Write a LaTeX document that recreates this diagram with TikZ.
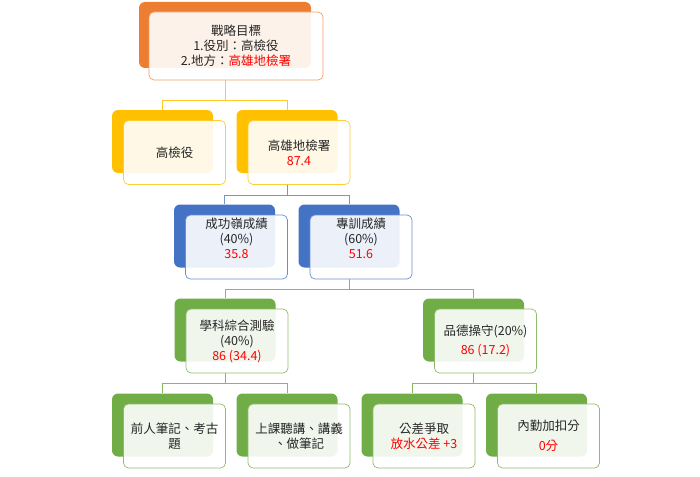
\documentclass[tikz,border=0pt]{standalone}
\usepackage{fontspec}
\setmainfont{Noto Sans CJK TC}
\definecolor{cO}{HTML}{ED7D31}
\definecolor{cY}{HTML}{FFC000}
\definecolor{cB}{HTML}{4472C4}
\definecolor{cG}{HTML}{70AD47}
\definecolor{cR}{HTML}{FF0000}
\definecolor{cT}{HTML}{262626}
\begin{document}
\begin{tikzpicture}[x=1pt,y=-1pt,
  back/.style={rectangle, rounded corners=6pt, minimum width=101pt, minimum height=63pt, inner sep=0pt, fill=#1},
  front/.style={rectangle, rounded corners=5pt, minimum width=102pt, minimum height=64pt, fill=white, fill opacity=0.9, text opacity=1, draw=#1, line width=0.7pt, align=center, text=cT, inner sep=2pt, font=\fontsize{12.5}{15}\selectfont},
  conn/.style={draw=#1, line width=0.8pt},
  hl/.style={text=cR}]
\useasboundingbox (0,0) rectangle (700,476);
% level 1
\node[back=cO, minimum width=172pt, minimum height=66pt] (g0) at (225,35) {};
\node[front=cO!75, minimum width=174pt, minimum height=68pt] (g) at (236,46) {戰略目標\\1.役別：高檢役\\2.地方：\textcolor{cR}{高雄地檢署}};
% level 2
\node[back=cY] (a0) at (162.5,141.5) {};
\node[front=cY!80] (a) at (174.5,152.5) {高檢役};
\node[back=cY] (b0) at (287,141.5) {};
\node[front=cY!80] (b) at (299,152.5) {高雄地檢署\\\textcolor{cR}{87.4}};
% level 3
\node[back=cB] (c0) at (224.5,236) {};
\node[front=cB!80] (c) at (236.5,247) {成功嶺成績\\(40\%)\\\textcolor{cR}{35.8}\\[2pt]};
\node[back=cB] (d0) at (349,236) {};
\node[front=cB!80] (d) at (361,247) {專訓成績\\(60\%)\\\textcolor{cR}{51.6}\\[2pt]};
% level 4
\node[back=cG] (e0) at (225,330) {};
\node[front=cG!80] (e) at (237,341) {學科綜合測驗\\(40\%)\\\textcolor{cR}{86 (34.4)}};
\node[back=cG] (f0) at (473.5,330) {};
\node[front=cG!80] (f) at (485.5,341) {品德操守(20\%)\\[4pt]\textcolor{cR}{86 (17.2)}};
% level 5
\node[back=cG] (h0) at (162.5,425) {};
\node[front=cG!80] (h) at (174.5,436) {前人筆記、考古\\題};
\node[back=cG] (i0) at (287,425) {};
\node[front=cG!80] (i) at (299,436) {上課聽講、講義\\、做筆記};
\node[back=cG] (j0) at (412,425) {};
\node[front=cG!80] (j) at (424,436) {公差爭取\\\textcolor{cR}{放水公差 +3}};
\node[back=cG] (k0) at (536.5,425) {};
\node[front=cG!80] (k) at (548.5,436) {內勤加扣分\\[5pt]\textcolor{cR}{0分}};
% connectors
\draw[conn=cY!85] (g0 |- g.south) -- ++(0,20) -| (a0.north);
\draw[conn=cY!85] (g0 |- g.south) -- ++(0,20) -| (b0.north);
\draw[conn=cB!75] (b0 |- b.south) -- ++(0,10.5) -| (c0.north);
\draw[conn=cB!75] (b0 |- b.south) -- ++(0,10.5) -| (d0.north);
\draw[conn=cG!85] (d0 |- d.south) -- ++(0,10) -| (e0.north);
\draw[conn=cG!85] (d0 |- d.south) -- ++(0,10) -| (f0.north);
\draw[conn=cG!85] (e0 |- e.south) -- ++(0,10) -| (h0.north);
\draw[conn=cG!85] (e0 |- e.south) -- ++(0,10) -| (i0.north);
\draw[conn=cG!85] (f0 |- f.south) -- ++(0,10) -| (j0.north);
\draw[conn=cG!85] (f0 |- f.south) -- ++(0,10) -| (k0.north);
\end{tikzpicture}
\end{document}
